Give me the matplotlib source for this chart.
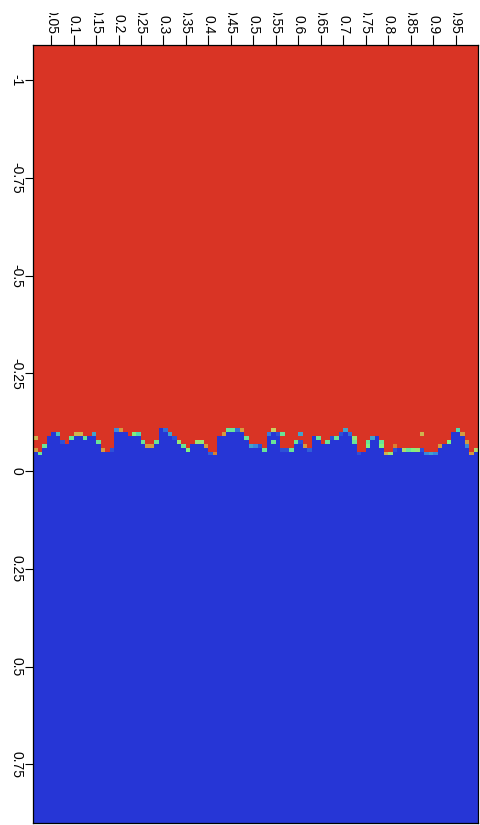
import numpy as np
import matplotlib
matplotlib.use("Agg")
import matplotlib.pyplot as plt
from matplotlib.colors import LinearSegmentedColormap
from matplotlib.transforms import Bbox

# grille : colonnes x de 0.01 a 1.00, lignes y de -1.09 a 0.90 (pas 0.01)
x_edges = np.round(np.arange(0.01, 1.0001, 0.01), 2)
y_edges = np.round(np.arange(-1.09, 0.9001, 0.01), 2)

# haut de la premiere cellule non rouge pour chaque colonne
top = [-0.06, -0.05, -0.07, -0.09, -0.10, -0.10, -0.08, -0.07, -0.09, -0.10,
       -0.10, -0.09, -0.09, -0.10, -0.08, -0.06, -0.05, -0.06, -0.11, -0.11,
       -0.10, -0.09, -0.10, -0.10, -0.08, -0.07, -0.07, -0.08, -0.11, -0.11,
       -0.10, -0.09, -0.08, -0.07, -0.06, -0.07, -0.08, -0.08, -0.07, -0.05,
       -0.05, -0.09, -0.10, -0.11, -0.11, -0.11, -0.11, -0.09, -0.07, -0.07,
       -0.07, -0.06, -0.10, -0.11, -0.10, -0.06, -0.06, -0.06, -0.08, -0.08,
       -0.07, -0.06, -0.09, -0.09, -0.07, -0.08, -0.09, -0.09, -0.10, -0.11,
       -0.10, -0.09, -0.05, -0.05, -0.08, -0.09, -0.09, -0.08, -0.05, -0.05,
       -0.06, -0.06, -0.06, -0.06, -0.06, -0.06, -0.06, -0.05, -0.05, -0.05,
       -0.07, -0.07, -0.08, -0.10, -0.11, -0.10, -0.08, -0.05, -0.06]

# valeur de cette cellule de bord (0 = bleu, 1 = rouge)
edge = [0.8, 0.5, 0.5, 0.0, 0.0, 0.4, 0.1, 0.0, 0.5, 0.75,
        0.75, 0.5, 0.0, 0.35, 0.5, 0.8, 0.0, 0.1, 0.3, 0.8,
        0.0, 0.0, 0.55, 0.45, 0.5, 0.8, 0.8, 0.5, 0.0, 0.2,
        0.35, 0.1, 0.6, 0.5, 0.55, 0.0, 0.6, 0.6, 0.8, 0.15,
        0.85, 0.0, 0.8, 0.5, 0.5, 0.2, 0.8, 0.5, 0.35, 0.3,
        0.1, 0.5, 0.25, 0.7, 0.1, 0.1, 0.1, 0.5, 0.5, 0.1,
        0.8, 0.15, 0.0, 0.5, 0.0, 0.5, 0.1, 0.5, 0.1, 0.35,
        0.2, 0.6, 0.1, 0.0, 0.5, 0.35, 0.0, 0.5, 0.75, 0.6,
        0.1, 0.0, 0.65, 0.5, 0.55, 0.6, 0.1, 0.3, 0.35, 0.3,
        0.8, 0.0, 0.55, 0.0, 0.45, 0.8, 0.8, 0.8, 0.65]

# cellules isolees : (colonne, y haut, valeur)
stray_col = [0, 53, 55, 59, 71, 74, 77, 80, 86, 96]
stray_y = [-0.09, -0.08, -0.10, -0.10, -0.08, -0.07, -0.07, -0.07, -0.10, -0.07]
stray_val = [0.75, 0.5, 0.5, 0.35, 0.5, 0.55, 0.55, 0.85, 0.75, 0.3]

y_labels = ["-1", "-0.75", "-0.5", "-0.25", "0", "0.25", "0.5", "0.75"]
y_ticks = [-1, -0.75, -0.5, -0.25, 0, 0.25, 0.5, 0.75]
x_ticks = np.round(np.arange(0.05, 0.951, 0.05), 2)
x_labels = ["%g" % v for v in x_ticks]

# construction de la matrice
y_top = y_edges[:-1]
Z = np.zeros((len(y_top), len(x_edges) - 1))
for j in range(len(top)):
    Z[y_top < top[j] - 0.001, j] = 1.0
    Z[np.isclose(y_top, top[j]), j] = edge[j]
for c, yy, v in zip(stray_col, stray_y, stray_val):
    Z[np.isclose(y_top, yy), c] = v

cmap = LinearSegmentedColormap.from_list("muted_jet", [
    (0.0, "#2636d6"), (0.3, "#3a8ad8"), (0.45, "#50d8b0"), (0.55, "#80f080"),
    (0.7, "#c8d060"), (0.85, "#d88030"), (1.0, "#d93425")])

plt.rcParams['font.family'] = ['Liberation Sans', 'DejaVu Sans']
fig = plt.figure(figsize=(4.8, 8.25), dpi=100)
ax = fig.add_axes([0.069, 0.0024, 0.927, 0.9431])
ax.pcolormesh(x_edges, y_edges, Z, cmap=cmap, vmin=0, vmax=1)
ax.set_xlim(0.01, 1.0)
ax.set_ylim(0.90, -1.09)

ax.xaxis.tick_top()
ax.set_xticks(x_ticks)
ax.set_xticklabels(x_labels, rotation=270, fontsize=10)
ax.set_yticks(y_ticks)
ax.set_yticklabels(y_labels, rotation=270, fontsize=10, va="center")
ax.tick_params(axis="x", direction="out", length=7, width=0.8, pad=1)
ax.tick_params(axis="y", direction="out", length=6, width=0.8, pad=1)
for s in ax.spines.values():
    s.set_linewidth(0.9)

# les etiquettes du haut sont coupees au bord de l'image
clip = Bbox.from_extents(0, 0, 480, 812)
for lab in ax.get_xticklabels():
    lab.set_clip_on(True)
    lab.set_clip_box(clip)

fig.savefig("out.png", dpi=100)
